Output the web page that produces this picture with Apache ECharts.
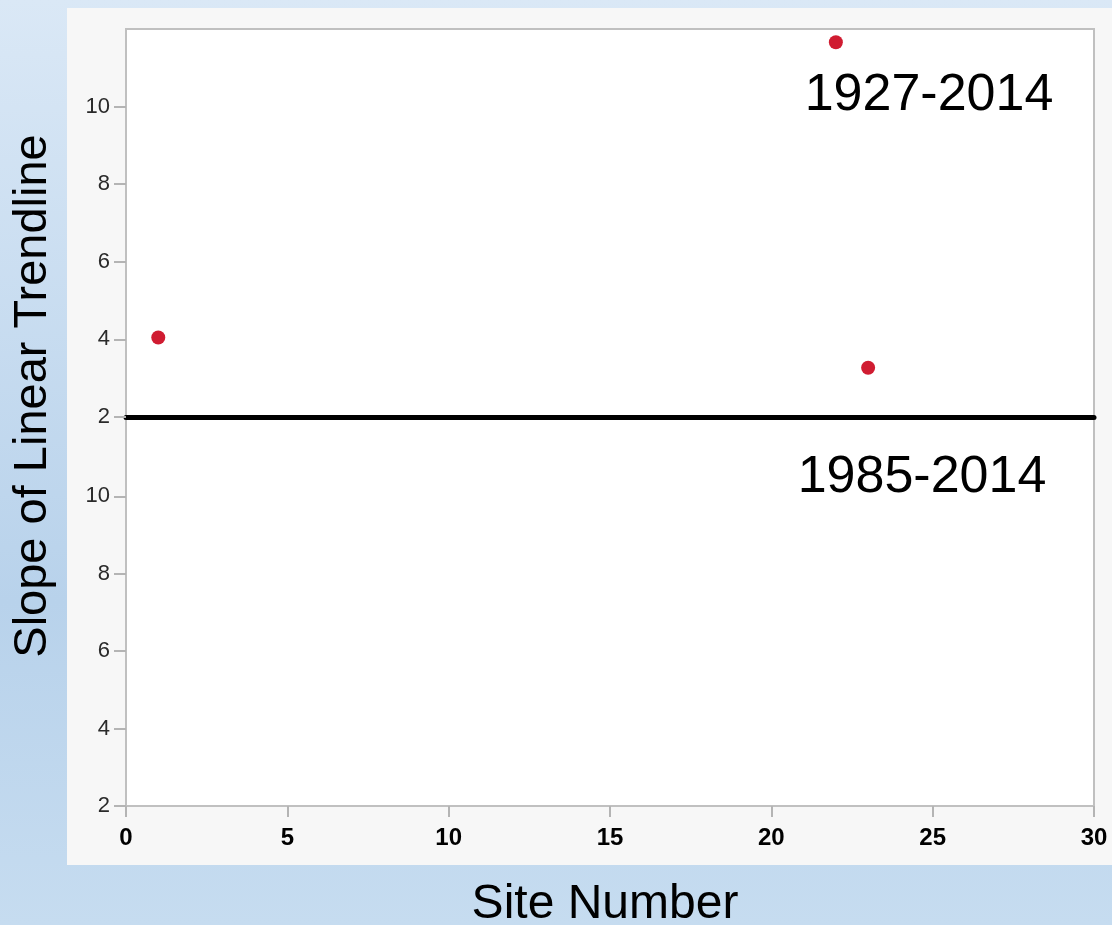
<!DOCTYPE html>
<html>
<head>
<meta charset="utf-8">
<script src="https://cdn.jsdelivr.net/npm/echarts@6/dist/echarts.min.js"></script>
<style>html,body{margin:0;padding:0;}#c{width:1112px;height:925px;}</style>
</head>
<body>
<div id="c"></div>
<script>
// Data
const siteNumbers1927 = [1, 22, 23];
const slopes1927 = [4.05, 11.66, 3.27];
const siteNumbers1985 = [];
const slopes1985 = [];
const xTicks = [0, 5, 10, 15, 20, 25, 30];
const yTicks = [2, 4, 6, 8, 10];
const panelLabels = ['1927-2014', '1985-2014'];
const xTitle = 'Site Number';
const yTitle = 'Slope of Linear Trendline';

const FONT = '"Liberation Sans", Arial, sans-serif';
const chart = echarts.init(document.getElementById('c'));

function yAxisCfg(gi) {
  return {
    type: 'value', gridIndex: gi, min: 2, max: 12, interval: 2,
    axisLine: { show: false },
    splitLine: { show: false },
    axisTick: { show: true, length: 12, customValues: yTicks, lineStyle: { color: '#b4b4b4', width: 2 } },
    axisLabel: { customValues: yTicks, margin: 16, fontSize: 22, color: '#2a2a2a', fontFamily: FONT }
  };
}

const option = {
  backgroundColor: {
    type: 'linear', x: 0, y: 0, x2: 0, y2: 1,
    colorStops: [
      { offset: 0, color: '#dae8f6' },
      { offset: 0.65, color: '#b8d2eb' },
      { offset: 1, color: '#c6dcf0' }
    ]
  },
  animation: false,
  graphic: { elements: [
    { type: 'rect', z: -100, shape: { x: 67, y: 8, width: 1045, height: 857 }, style: { fill: '#f7f7f7' } },
    { type: 'text', x: 33, y: 396, rotation: Math.PI / 2, style: { text: yTitle, font: '47px ' + FONT, fill: '#000', textAlign: 'center', textVerticalAlign: 'middle' } },
    { type: 'text', x: 605, y: 905, style: { text: xTitle, font: '48px ' + FONT, fill: '#000', textAlign: 'center', textVerticalAlign: 'middle' } },
    { type: 'text', x: 929, y: 96, style: { text: panelLabels[0], font: '52px ' + FONT, fill: '#000', textAlign: 'center', textVerticalAlign: 'middle' } },
    { type: 'text', x: 922, y: 478, style: { text: panelLabels[1], font: '52px ' + FONT, fill: '#000', textAlign: 'center', textVerticalAlign: 'middle' } }
  ]},
  grid: [
    { left: 126, right: 18, top: 29, height: 388, show: true, backgroundColor: '#fff', borderColor: '#c0c0c0', borderWidth: 2 },
    { left: 126, right: 18, top: 419, height: 387, show: true, backgroundColor: '#fff', borderColor: '#c0c0c0', borderWidth: 2 }
  ],
  xAxis: [
    { type: 'value', gridIndex: 0, min: 0, max: 30, interval: 5,
      axisLine: { show: true, onZero: false, lineStyle: { color: '#000', width: 5 } },
      axisTick: { show: false }, axisLabel: { show: false }, splitLine: { show: false } },
    { type: 'value', gridIndex: 1, min: 0, max: 30, interval: 5,
      axisLine: { show: false, onZero: false },
      splitLine: { show: false },
      axisTick: { show: true, length: 11, customValues: xTicks, lineStyle: { color: '#b4b4b4', width: 2 } },
      axisLabel: { customValues: xTicks, margin: 20, fontSize: 24, fontWeight: 'bold', color: '#000', fontFamily: FONT } }
  ],
  yAxis: [yAxisCfg(0), yAxisCfg(1)],
  series: [
    { type: 'scatter', xAxisIndex: 0, yAxisIndex: 0, symbolSize: 14,
      itemStyle: { color: '#d01c31', opacity: 1 },
      data: siteNumbers1927.map((x, i) => [x, slopes1927[i]]) },
    { type: 'scatter', xAxisIndex: 1, yAxisIndex: 1, symbolSize: 14,
      itemStyle: { color: '#d01c31', opacity: 1 },
      data: siteNumbers1985.map((x, i) => [x, slopes1985[i]]) }
  ]
};
chart.setOption(option);
</script>
</body>
</html>
